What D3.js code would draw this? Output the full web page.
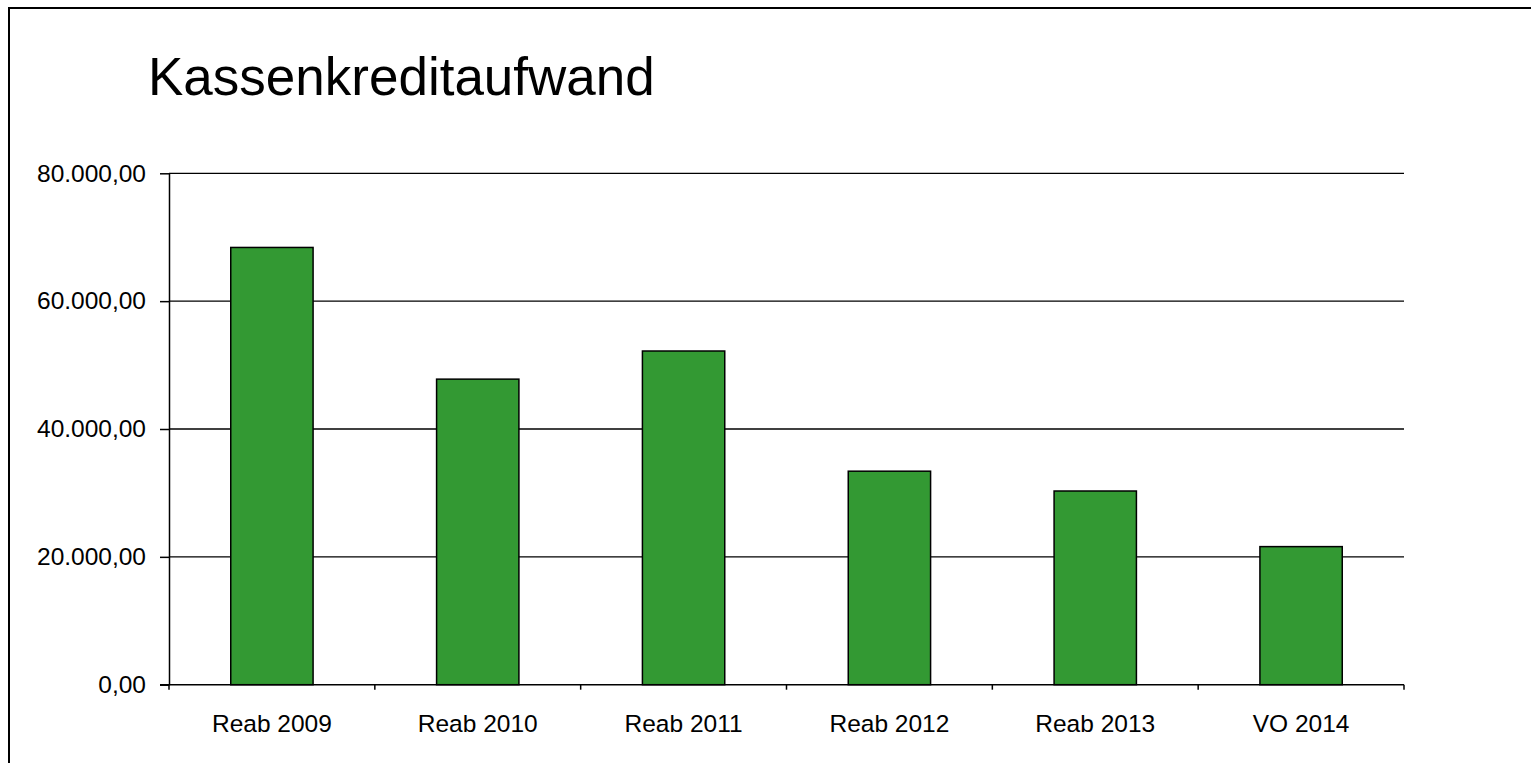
<!DOCTYPE html>
<html lang="de">
<head>
<meta charset="UTF-8">
<title>Kassenkreditaufwand</title>
<script src="https://d3js.org/d3.v7.min.js"></script>
<style>
  body { margin: 0; background: #fff; overflow: hidden; }
  svg { display: block; }
  text { font-family: "Liberation Sans", Arial, sans-serif; }
</style>
</head>
<body>
<svg id="chart" width="1531" height="763"></svg>
<script>
// data
const categories = ["Reab 2009", "Reab 2010", "Reab 2011", "Reab 2012", "Reab 2013", "VO 2014"];
const values = [68400, 47800, 52200, 33400, 30300, 21600];
const yTicks = [0, 20000, 40000, 60000, 80000];

const svg = d3.select("#chart");
const plotLeft = 169, plotRight = 1404, plotTop = 173.3, plotBottom = 684.7;

// outer frame (only top and left edges are inside the picture)
svg.append("path")
    .attr("d", "M9,763V8H1531")
    .attr("fill", "none")
    .attr("stroke", "#000")
    .attr("stroke-width", 2);

svg.append("text")
    .attr("x", 148).attr("y", 95)
    .attr("font-size", 53)
    .text("Kassenkreditaufwand");

const x = d3.scaleBand().domain(categories).range([plotLeft, plotRight]).paddingInner(0.6).paddingOuter(0.3);
const y = d3.scaleLinear().domain([0, 80000]).range([plotBottom, plotTop]);

const locale = d3.formatLocale({decimal: ",", thousands: ".", grouping: [3], currency: ["", "€"]});
const fmt = locale.format(",.2f");

// gridlines
svg.append("g")
    .selectAll("line")
    .data(yTicks.filter(d => d > 0))
    .enter().append("line")
    .attr("x1", plotLeft).attr("x2", plotRight)
    .attr("y1", d => y(d)).attr("y2", d => y(d))
    .attr("stroke", "#000")
    .attr("stroke-width", 1.3);

// y axis
const yAxis = svg.append("g")
    .attr("transform", `translate(${plotLeft},0)`)
    .call(d3.axisLeft(y).tickValues(yTicks).tickFormat(fmt).tickSize(9).tickSizeOuter(0).tickPadding(14));
yAxis.selectAll("text").attr("font-size", 24.5).attr("font-family", "Liberation Sans, Arial, sans-serif").attr("fill", "#000");
yAxis.selectAll("line,path").attr("stroke", "#000").attr("stroke-width", 1.5);

// bars
svg.append("g")
    .selectAll("rect")
    .data(values)
    .enter().append("rect")
    .attr("x", (d, i) => x(categories[i]))
    .attr("y", d => y(d))
    .attr("width", x.bandwidth())
    .attr("height", d => plotBottom - y(d))
    .attr("fill", "#339933")
    .attr("stroke", "#000")
    .attr("stroke-width", 1.5);

// x axis with tick marks on band boundaries
const xAxis = svg.append("g").attr("transform", `translate(0,${plotBottom})`);
xAxis.append("line")
    .attr("x1", plotLeft - 9).attr("x2", plotRight)
    .attr("stroke", "#000").attr("stroke-width", 1.5);
const step = x.step();
xAxis.selectAll("line.tick")
    .data(d3.range(categories.length + 1))
    .enter().append("line")
    .attr("class", "tick")
    .attr("x1", i => plotLeft + i * step).attr("x2", i => plotLeft + i * step)
    .attr("y1", 0).attr("y2", 5)
    .attr("stroke", "#000").attr("stroke-width", 1.5);
xAxis.selectAll("text")
    .data(categories)
    .enter().append("text")
    .attr("x", d => x(d) + x.bandwidth() / 2)
    .attr("y", 47)
    .attr("text-anchor", "middle")
    .attr("font-size", 24.5)
    .text(d => d);
</script>
</body>
</html>
